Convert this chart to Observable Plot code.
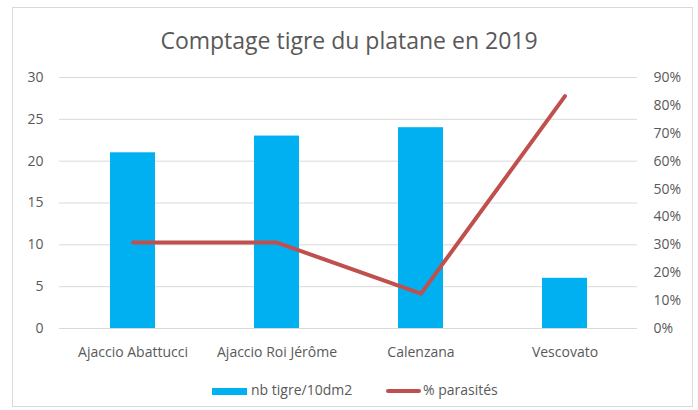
<!DOCTYPE html>
<html><head><meta charset="utf-8">
<script src="https://cdn.jsdelivr.net/npm/d3@7"></script>
<script src="https://cdn.jsdelivr.net/npm/@observablehq/plot@0.6"></script>
<style>
body{margin:0;background:#fff;font-family:"Open Sans",sans-serif;}
#wrap{position:relative;width:698px;height:410px;overflow:hidden;}
#frame{position:absolute;left:12px;top:7px;width:681px;height:400px;border:1px solid #d9d9d9;box-sizing:border-box;}
#title{position:absolute;left:0;width:698px;top:25px;text-align:center;font-size:23px;color:#595959;line-height:30px;}
#legend{position:absolute;top:380px;left:0;width:698px;font-size:14px;color:#595959;}
.lg{position:absolute;top:0;white-space:nowrap;line-height:20px;}
#plot{position:absolute;left:0;top:0;}
</style></head><body>
<div id="wrap">
<div id="frame"></div>
<div id="plot"></div>
<div id="title">Comptage tigre du platane en 2019</div>
<div id="legend">
  <div class="lg" style="left:212px"><span style="display:inline-block;width:35px;height:7px;background:#00B0F0;vertical-align:middle;margin-right:4px"></span>nb tigre/10dm2</div>
  <div class="lg" style="left:386px"><span style="display:inline-block;width:35px;height:4px;border-radius:2px;background:#C0504D;vertical-align:middle;margin-right:2px"></span>% parasités</div>
</div>
</div>
<script>
const categories = ["Ajaccio Abattucci", "Ajaccio Roi Jérôme", "Calenzana", "Vescovato"];
const nbTigre = [21, 23, 24, 6];
const pctParasites = [0.308, 0.308, 0.125, 0.833];
const leftTicks = [0, 5, 10, 15, 20, 25, 30];
const rightTicks = [0, 0.1, 0.2, 0.3, 0.4, 0.5, 0.6, 0.7, 0.8, 0.9];

const maxLeft = 30, maxRight = 0.9;
const toLeft = p => p * maxLeft / maxRight;
const bars = categories.map((c, i) => ({cat: c, v: nbTigre[i]}));
const line = categories.map((c, i) => ({cat: c, p: pctParasites[i]}));

const chart = Plot.plot({
  width: 698, height: 410,
  marginLeft: 59, marginRight: 61, marginTop: 77, marginBottom: 82,
  style: {fontFamily: "'Open Sans', sans-serif", fontSize: "14px", color: "#595959", background: "transparent"},
  x: {domain: categories, paddingInner: 0.69, paddingOuter: 0.345, label: null},
  y: {domain: [0, maxLeft], label: null},
  marks: [
    Plot.gridY(leftTicks, {stroke: "#d9d9d9", strokeOpacity: 1, strokeWidth: 1}),
    Plot.axisY(leftTicks, {anchor: "left", tickSize: 0, tickPadding: 16, label: null, fontSize: 14, fill: "#595959"}),
    Plot.axisY(rightTicks.map(toLeft), {anchor: "right", tickSize: 0, tickPadding: 16, label: null, fontSize: 14, fill: "#595959", textAnchor: "start",
      tickFormat: d => Math.round(d * maxRight / maxLeft * 100) + "%"}),
    Plot.axisX({tickSize: 0, tickPadding: 19, label: null, fontSize: 14, fill: "#595959"}),
    Plot.barY(bars, {x: "cat", y: "v", fill: "#00B0F0"}),
    Plot.line(line, {x: "cat", y: d => toLeft(d.p), stroke: "#C0504D", strokeWidth: 4, strokeLinecap: "round", strokeLinejoin: "round"})
  ]
});
document.getElementById("plot").append(chart);
</script>
</body></html>
